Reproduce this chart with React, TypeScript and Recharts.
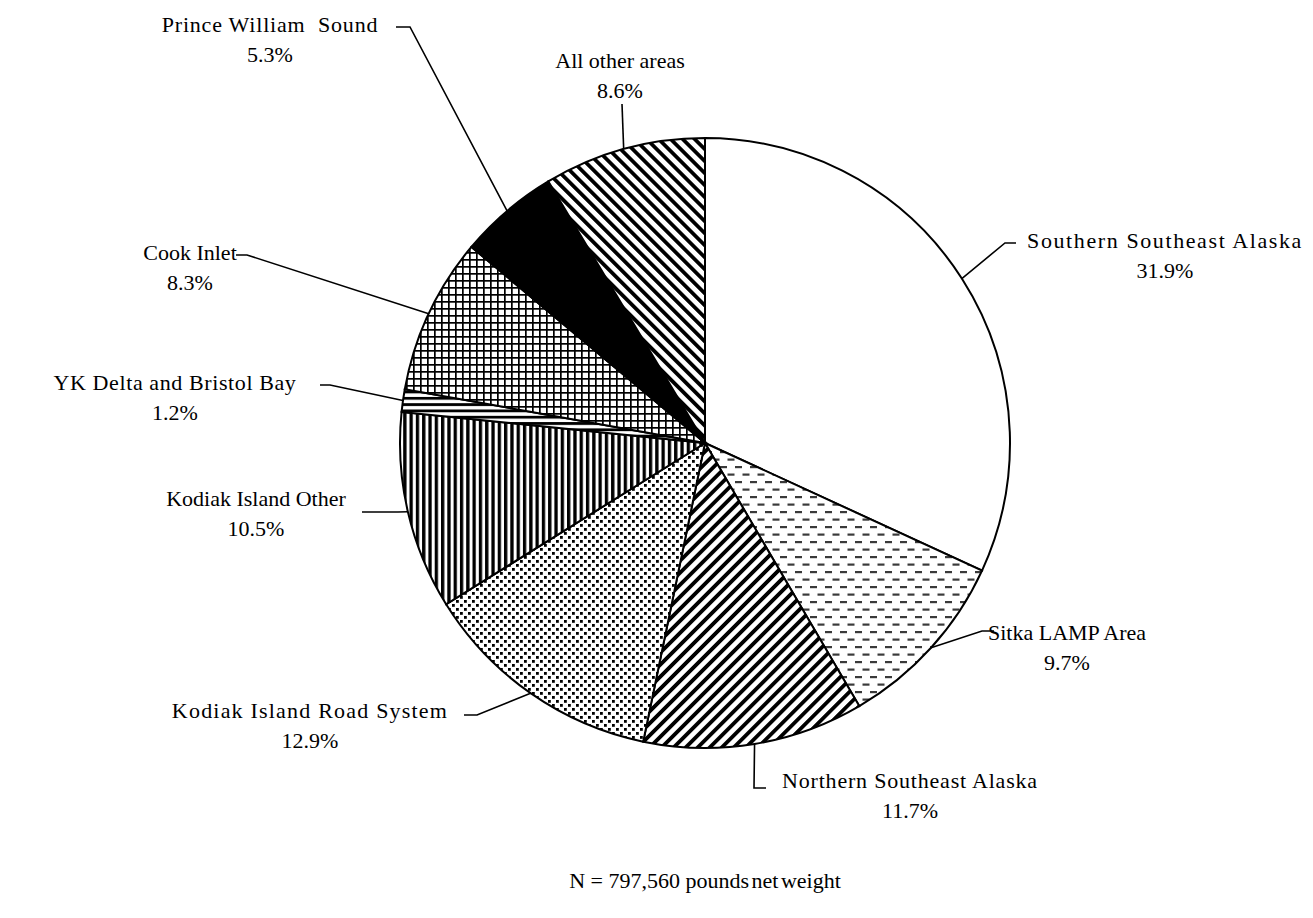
import { PieChart, Pie, Cell } from 'recharts';

const areas = [
  'Southern Southeast Alaska',
  'Sitka LAMP Area',
  'Northern Southeast Alaska',
  'Kodiak Island Road System',
  'Kodiak Island Other',
  'YK Delta and Bristol Bay',
  'Cook Inlet',
  'Prince William  Sound',
  'All other areas',
];
const shares = [31.9, 9.7, 11.7, 12.9, 10.5, 1.2, 8.3, 5.3, 8.6];
const shareLabels = ['31.9%', '9.7%', '11.7%', '12.9%', '10.5%', '1.2%', '8.3%', '5.3%', '8.6%'];
const fills = [
  '#ffffff',
  'url(#dashH)',
  'url(#diagUp)',
  'url(#dots)',
  'url(#vert)',
  'url(#horiz)',
  'url(#grid)',
  '#000000',
  'url(#diagDown)',
];

const data = areas.map((name, i) => ({ name, value: shares[i], pct: shareLabels[i] }));

// label placement (text centre, first line y, elbow of leader, end of leader)
const labelPos = [
  { tx: 1165, ty: 240, ex: 1005, ey: 243, hx: 1016, ls: 1.6 },
  { tx: 1067, ty: 632, ex: 982, ey: 631, hx: 994, ls: 0 },
  { tx: 910, ty: 780, ex: 754, ey: 788, hx: 766, ls: 0.8 },
  { tx: 310, ty: 710, ex: 477, ey: 715, hx: 464, ls: 1.2 },
  { tx: 256, ty: 498, ex: 398, ey: 512, hx: 362, ls: 0 },
  { tx: 175, ty: 382, ex: 330, ey: 385, hx: 320, ls: 0.6 },
  { tx: 190, ty: 252, ex: 247, ey: 255, hx: 236, ls: 0 },
  { tx: 270, ty: 24, ex: 410, ey: 27, hx: 396, ls: 0.8 },
  { tx: 620, ty: 60, ex: 622, ey: 104, hx: 622, ls: 0 },
];

const RAD = Math.PI / 180;
const FONT = '"Liberation Serif", "Times New Roman", serif';

function renderLabel(props: any) {
  const { cx, cy, midAngle, outerRadius, index } = props;
  const p = labelPos[index];
  const x0 = cx + outerRadius * Math.cos(-midAngle * RAD);
  const y0 = cy + outerRadius * Math.sin(-midAngle * RAD);
  return (
    <g key={`lbl-${index}`}>
      <polyline
        points={`${x0},${y0} ${p.ex},${p.ey} ${p.hx},${p.ey}`}
        fill="none"
        stroke="#000"
        strokeWidth={1.6}
      />
      <text
        x={p.tx}
        y={p.ty}
        textAnchor="middle"
        dominantBaseline="central"
        fontFamily={FONT}
        fontSize={22}
        letterSpacing={p.ls}
        fill="#000"
        style={{ whiteSpace: 'pre' }}
      >
        {data[index].name}
      </text>
      <text
        x={p.tx}
        y={p.ty + 30}
        textAnchor="middle"
        dominantBaseline="central"
        fontFamily={FONT}
        fontSize={22}
        fill="#000"
      >
        {data[index].pct}
      </text>
    </g>
  );
}

export default function App() {
  return (
    <div style={{ position: 'absolute', left: 0, top: 0, background: '#fff' }}>
      <PieChart width={1313} height={918} margin={{ top: 0, right: 0, bottom: 0, left: 0 }}>
        <defs>
          <pattern id="dashH" width="15" height="15" patternUnits="userSpaceOnUse">
            <rect width="15" height="15" fill="#fff" />
            <rect x="0" y="1" width="7" height="2.2" fill="#3a3a3a" />
            <rect x="7.5" y="8.5" width="7" height="2.2" fill="#3a3a3a" />
          </pattern>
          <pattern id="diagUp" width="8.5" height="8.5" patternUnits="userSpaceOnUse" patternTransform="rotate(45)">
            <rect width="8.5" height="8.5" fill="#fff" />
            <rect x="0" y="0" width="3.8" height="8.5" fill="#000" />
          </pattern>
          <pattern id="diagDown" width="8.5" height="8.5" patternUnits="userSpaceOnUse" patternTransform="rotate(-45)">
            <rect width="8.5" height="8.5" fill="#fff" />
            <rect x="0" y="0" width="3.8" height="8.5" fill="#000" />
          </pattern>
          <pattern id="dots" width="8" height="8" patternUnits="userSpaceOnUse">
            <rect width="8" height="8" fill="#fff" />
            <rect x="0" y="0" width="2.8" height="2.8" fill="#000" />
            <rect x="4" y="4" width="2.8" height="2.8" fill="#000" />
          </pattern>
          <pattern id="vert" width="6.3" height="6.3" patternUnits="userSpaceOnUse">
            <rect width="6.3" height="6.3" fill="#fff" />
            <rect x="0" y="0" width="3.3" height="6.3" fill="#000" />
          </pattern>
          <pattern id="horiz" width="6.3" height="6.3" patternUnits="userSpaceOnUse">
            <rect width="6.3" height="6.3" fill="#fff" />
            <rect x="0" y="0" width="6.3" height="2.8" fill="#000" />
          </pattern>
          <pattern id="grid" width="7" height="7" patternUnits="userSpaceOnUse">
            <rect width="7" height="7" fill="#fff" />
            <rect x="0" y="0" width="1.7" height="7" fill="#000" />
            <rect x="0" y="0" width="7" height="1.7" fill="#000" />
          </pattern>
        </defs>
        <Pie
          data={data}
          dataKey="value"
          nameKey="name"
          cx={705}
          cy={443}
          outerRadius={305}
          startAngle={90}
          endAngle={-270}
          stroke="#000"
          strokeWidth={2}
          label={renderLabel}
          labelLine={false}
          isAnimationActive={false}
        >
          {data.map((d, i) => (
            <Cell key={d.name} fill={fills[i]} />
          ))}
        </Pie>
        <text
          x={705}
          y={880}
          textAnchor="middle"
          dominantBaseline="central"
          fontFamily={FONT}
          fontSize={22}
          fill="#000"
        >
          N = 797,560 <tspan wordSpacing={-3}>pounds net weight</tspan>
        </text>
      </PieChart>
    </div>
  );
}
